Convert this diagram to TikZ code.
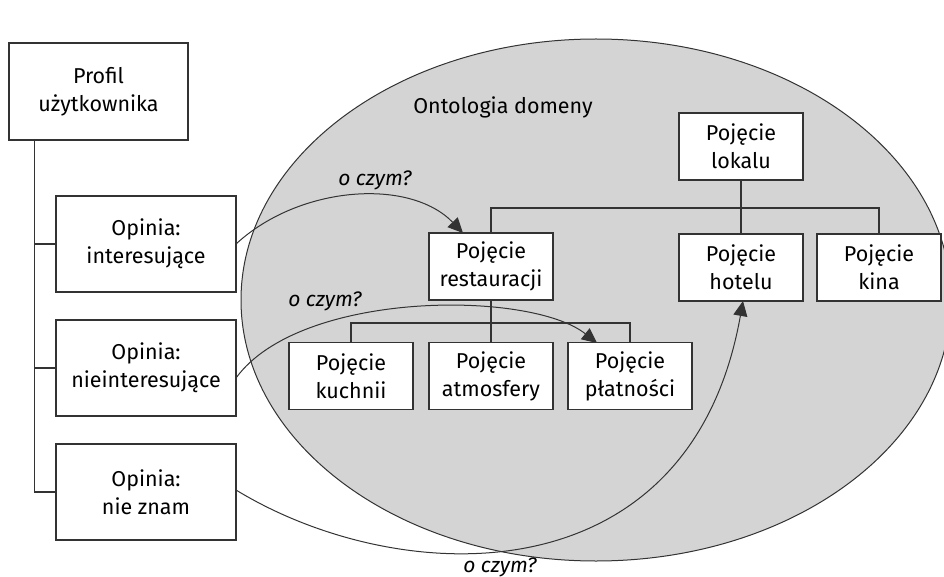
\documentclass[tikz,border=0pt]{standalone}
\usepackage{fontspec}
\setmainfont{Fira Sans}
\usetikzlibrary{arrows.meta}

\begin{document}
\begin{tikzpicture}[x=1pt, y=-1pt, line width=1.2pt, draw=black!80,
                  box/.style={draw=black!80, fill=white, align=center,
                  inner sep=0pt, font=\fontsize{21.5}{28}\selectfont},
                  ask/.style={-{Triangle[length=15pt,width=14pt]}, line width=1pt},
                  lbl/.style={font=\fontsize{21}{24}\selectfont\itshape}]
                  \useasboundingbox (0,0) rectangle (944,577);

                  % Ontologia jako szara elipsa.
                  \fill[black!17] (596,300) ellipse [x radius=355, y radius=261];
                  \draw[line width=1pt] (596,300) ellipse [x radius=355, y radius=261];
                  \node[font=\fontsize{21.5}{24}\selectfont] (ont) at (503,107) {Ontologia domeny};

                  % Profil i opinie.
                  \node[box, minimum width=179, minimum height=97] (prof) at (98.5,91.5) {Profil\\użytkownika};
                  \node[box, minimum width=180, minimum height=96] (op1) at (146,244) {Opinia:\\interesujące};
                  \node[box, minimum width=180, minimum height=96] (op2) at (146,368) {Opinia:\\nieinteresujące};
                  \node[box, minimum width=180, minimum height=96] (op3) at (146,492) {Opinia:\\nie znam};

                  \draw (prof.south) ++(-64,0) coordinate (tr) |- (op3.west);
                  \draw (tr |- op1.west) -- (op1.west);
                  \draw (tr |- op2.west) -- (op2.west);

                  % Pojęcia ontologii.
                  \node[box, minimum width=124, minimum height=67] (lok) at (741,146.5) {Pojęcie\\lokalu};
                  \node[box, minimum width=124, minimum height=67] (res) at (491,266.5) {Pojęcie\\restauracji};
                  \node[box, minimum width=124, minimum height=67] (hot) at (741,267.5) {Pojęcie\\hotelu};
                  \node[box, minimum width=124, minimum height=67] (kin) at (879,267.5) {Pojęcie\\kina};
                  \node[box, minimum width=124, minimum height=67] (kuc) at (351,376) {Pojęcie\\kuchnii};
                  \node[box, minimum width=124, minimum height=67] (atm) at (491,376) {Pojęcie\\atmosfery};
                  \node[box, minimum width=124, minimum height=67] (pla) at (630,376) {Pojęcie\\płatności};

                  \draw (lok.south) -- (hot.north);
                  \draw (res.north) |- (741,208) -| (kin.north);
                  \draw (res.south) -- (atm.north);
                  \draw (kuc.north) |- (491,323) -| (pla.north);

                  % Pytania o czym?
                  \draw[ask] (236,244) .. controls (300,185) and (410,178) .. (463,233);
                  \node[lbl] (q1) at (375,180) {o czym?};
                  \draw[ask] (236,378) .. controls (300,290) and (530,290) .. (597,343);
                  \node[lbl] (q2) at (325,301) {o czym?};
                  \draw[ask] (236,490) .. controls (400,590) and (690,600) .. (743,301);
                  \node[lbl] (q3) at (500,567) {o czym?};
\end{tikzpicture}
\end{document}
